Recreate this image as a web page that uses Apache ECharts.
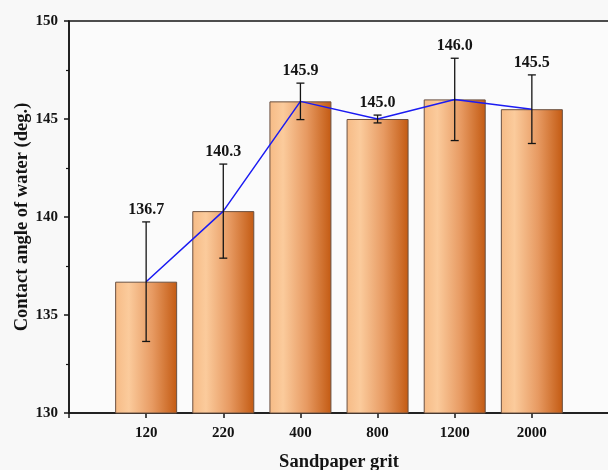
<!DOCTYPE html>
<html>
<head>
<meta charset="utf-8">
<script src="https://cdn.jsdelivr.net/npm/echarts@6/dist/echarts.min.js"></script>
<style>
  html, body { margin: 0; padding: 0; background: #f8f8f8; }
  #chart { width: 608px; height: 470px; }
</style>
</head>
<body>
<div id="chart"></div>
<script>
// Sandpaper grit categories and measured water contact angles
const grits = ['120', '220', '400', '800', '1200', '2000'];
const angles = [136.7, 140.3, 145.9, 145.0, 146.0, 145.5];
const errors = [3.05, 2.4, 0.93, 0.2, 2.1, 1.75];
const yTicks = [130, 135, 140, 145, 150];

const FONT = '"Liberation Serif", "Times New Roman", serif';
const INK = '#141414';

// x positions 1..6 on a 0..7 value scale
const pos = grits.map((g, i) => i + 1);
const barData = pos.map((x, i) => [x, angles[i]]);
const errData = pos.map((x, i) => [x, angles[i], errors[i]]);

const barGradient = new echarts.graphic.LinearGradient(0, 0, 1, 0, [
  { offset: 0, color: '#f6bb86' },
  { offset: 0.22, color: '#fbcb9c' },
  { offset: 0.6, color: '#e79a62' },
  { offset: 1, color: '#c35a12' }
]);

const chart = echarts.init(document.getElementById('chart'));
chart.setOption({
  backgroundColor: '#f8f8f8',
  animation: false,
  grid: {
    left: 69, right: -1, top: 21, bottom: 57,
    outerBoundsMode: 'none', containLabel: false,
    show: true, backgroundColor: '#fbfbfb',
    borderColor: INK, borderWidth: 1.5
  },
  xAxis: {
    type: 'value', min: 0, max: 7, interval: 1,
    name: 'Sandpaper grit', nameLocation: 'middle', nameGap: 40,
    nameMoveOverlap: false,
    nameTextStyle: { fontFamily: FONT, fontWeight: 'bold', fontSize: 18.5, color: INK },
    axisLine: { show: true, onZero: false, lineStyle: { color: INK, width: 1.5 } },
    axisTick: { show: true, inside: false, length: 5, lineStyle: { color: INK, width: 1.5 } },
    splitLine: { show: false },
    axisLabel: {
      fontFamily: FONT, fontWeight: 'bold', fontSize: 15, color: INK, margin: 13,
      formatter: v => grits[v - 1] || ''
    }
  },
  yAxis: {
    type: 'value', min: yTicks[0], max: yTicks[yTicks.length - 1], interval: 5,
    name: 'Contact angle of water (deg.)', nameLocation: 'middle', nameGap: 37,
    nameMoveOverlap: false,
    nameTextStyle: { fontFamily: FONT, fontWeight: 'bold', fontSize: 18.5, color: INK },
    axisLine: { show: true, lineStyle: { color: INK, width: 1.5 } },
    axisTick: { show: true, inside: false, length: 5, lineStyle: { color: INK, width: 1.5 } },
    minorTick: { show: true, splitNumber: 2, length: 3, lineStyle: { color: INK, width: 1.2 } },
    splitLine: { show: false },
    axisLabel: { fontFamily: FONT, fontWeight: 'bold', fontSize: 15, color: INK, margin: 11 }
  },
  series: [
    {
      type: 'bar',
      data: barData,
      barWidth: 62,
      itemStyle: { color: barGradient, borderColor: '#6a5040', borderWidth: 1 },
      z: 2
    },
    {
      type: 'line',
      data: barData,
      symbol: 'none',
      lineStyle: { color: '#1b1bf2', width: 1.5 },
      z: 3
    },
    {
      type: 'custom',
      data: errData,
      z: 4,
      renderItem: (params, api) => {
        const x = api.value(0), v = api.value(1), e = api.value(2);
        const top = api.coord([x, v + e]);
        const bot = api.coord([x, v - e]);
        const cap = 4;
        const style = { stroke: INK, lineWidth: 1.3 };
        return {
          type: 'group',
          children: [
            { type: 'line', shape: { x1: top[0], y1: top[1], x2: bot[0], y2: bot[1] }, style },
            { type: 'line', shape: { x1: top[0] - cap, y1: top[1], x2: top[0] + cap, y2: top[1] }, style },
            { type: 'line', shape: { x1: bot[0] - cap, y1: bot[1], x2: bot[0] + cap, y2: bot[1] }, style },
            {
              type: 'text',
              style: {
                x: top[0], y: top[1] - 4,
                text: v.toFixed(1),
                align: 'center', verticalAlign: 'bottom',
                font: 'bold 16px ' + FONT, fill: INK
              }
            }
          ]
        };
      }
    }
  ]
});
</script>
</body>
</html>
